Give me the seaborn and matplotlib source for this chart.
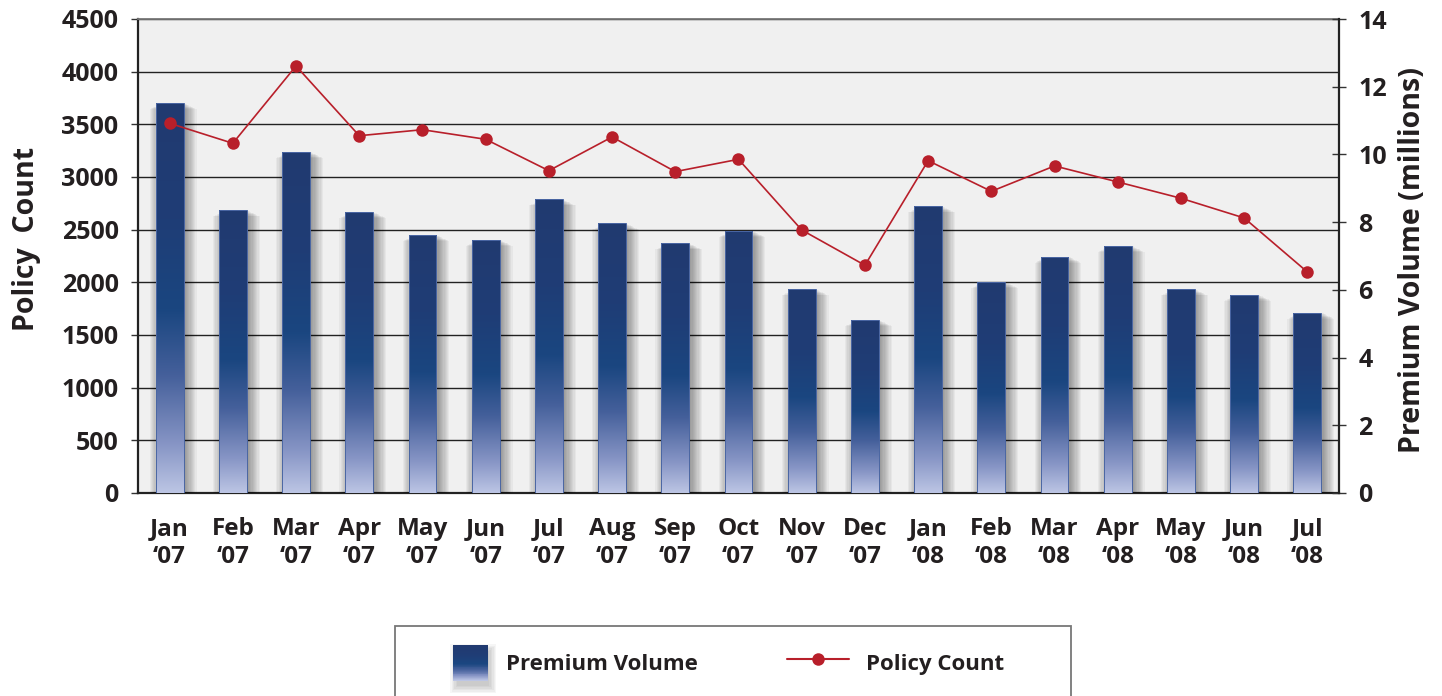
import numpy as np
import pandas as pd
import matplotlib
matplotlib.use("Agg")
import matplotlib.pyplot as plt
import seaborn as sns
from matplotlib.colors import LinearSegmentedColormap
from matplotlib.patches import Rectangle
from matplotlib.lines import Line2D
from matplotlib.legend_handler import HandlerBase

# ---------------- data ----------------
months = ["Jan", "Feb", "Mar", "Apr", "May", "Jun", "Jul", "Aug", "Sep", "Oct", "Nov", "Dec",
          "Jan", "Feb", "Mar", "Apr", "May", "Jun", "Jul"]
years = ["\u201807"] * 12 + ["\u201808"] * 7
premium_volume = [11.52, 8.35, 10.08, 8.30, 7.62, 7.48, 8.67, 7.96, 7.37, 7.74, 6.02, 5.11,
                  8.47, 6.24, 6.98, 7.30, 6.02, 5.86, 5.33]          # millions
policy_count = [3510, 3320, 4054, 3392, 3449, 3358, 3060, 3380, 3051, 3168, 2497, 2162,
                3155, 2864, 3105, 2953, 2798, 2611, 2098]
left_ticks = list(range(0, 4501, 500))
right_ticks = list(range(0, 15, 2))

periods = [f"{m}\n{y}" for m, y in zip(months, years)]
df = pd.DataFrame({"period": periods, "premium": premium_volume, "policies": policy_count})

# ---------------- style ----------------
sns.set_style("white")
plt.rcParams["font.family"] = ["Open Sans", "DejaVu Sans"]
plt.rcParams["font.weight"] = "bold"
plt.rcParams["axes.labelweight"] = "bold"

NAVY = "#1f3a72"
RED = "#b81f2a"
TXT = "#231f20"
grad = LinearSegmentedColormap.from_list(
    "bar", [(0.0, "#bcc5e4"), (0.12, "#8896c6"), (0.3, "#45609b"), (0.47, "#1a4680"),
            (0.7, "#1f3d76"), (1.0, "#213a70")])

fig = plt.figure(figsize=(14.42, 6.96), dpi=100)
L, B, R, T = 138, 493, 1339, 19
W, H = 1442, 696
ax = fig.add_axes([L / W, 1 - B / H, (R - L) / W, (B - T) / H])
ax_bar = ax.twinx()
ax_line = ax.twinx()

ax.set_facecolor("#f0f0f0")

# bars (premium volume, right scale)
sns.barplot(data=df, x="period", y="premium", ax=ax_bar, width=0.44, color=NAVY,
            saturation=1, zorder=3)
px_x = 1 / ((R - L) / 19)
px_y = 14 / (B - T)
gimg = np.linspace(1, 0, 256).reshape(-1, 1)
for p in list(ax_bar.patches):
    x0, w, h = p.get_x(), p.get_width(), p.get_height()
    # soft shadow
    for k in range(10):
        s = (k + 1) * 1.2
        ax_bar.add_patch(Rectangle((x0 + 6 * px_x - s * px_x, -s * px_y * 0.7),
                                   w + 2 * s * px_x - 5 * px_x, h + s * px_y * 0.2,
                                   facecolor="#000000", alpha=0.04, lw=0, zorder=2))
    im = ax_bar.imshow(gimg, extent=[x0, x0 + w, 0, h], aspect="auto", cmap=grad,
                       vmin=0, vmax=1, zorder=3.1, interpolation="bilinear")
    im.set_clip_path(p)
    p.set_facecolor("none")
    p.set_edgecolor("#4a66a3")
    p.set_linewidth(0.7)
    p.set_zorder(3.2)

# line (policy count, left scale)
sns.lineplot(data=df, x="period", y="policies", ax=ax_line, color=RED, lw=1.2,
             marker="o", markersize=9, markeredgewidth=0, sort=False, zorder=5)

# ---------------- axes ----------------
for a in (ax, ax_bar, ax_line):
    a.set_xlim(-0.5, 18.5)
ax.set_ylim(0, 4500)
ax_line.set_ylim(0, 4500)
ax_bar.set_ylim(0, 14)

ax.set_yticks(left_ticks)
ax.grid(axis="y", color="#222222", lw=1.0)
ax.grid(axis="x", visible=False)
ax.set_axisbelow(True)
ax.tick_params(axis="y", direction="out", length=5, width=1, color="#333333",
               pad=9, labelsize=18, labelcolor=TXT)

ax_bar.set_yticks(right_ticks)
ax_bar.tick_params(axis="y", direction="inout", length=10, width=1, color="#333333",
                   pad=9, labelsize=18, labelcolor=TXT)
ax_line.set_yticks([])
ax_line.set_ylabel("")
ax_line.set_xlabel("")
ax_bar.set_xlabel("")

ax.set_xticks(range(len(periods)))
ax.set_xticklabels(periods, fontsize=17.5, color=TXT, linespacing=1.2)
ax.set_xticks(np.arange(-0.5, len(periods), 1), minor=True)
ax.tick_params(axis="x", which="major", length=0, pad=17.5)
ax.tick_params(axis="x", which="minor", direction="inout", length=10, width=1, color="#333333")
ax.set_xlabel("")

for a in (ax, ax_bar, ax_line):
    for s in a.spines.values():
        s.set_visible(False)
ax.spines["left"].set_visible(True)
ax.spines["left"].set_color("#222222")
ax.spines["left"].set_linewidth(1.6)
ax.spines["bottom"].set_visible(True)
ax.spines["bottom"].set_color("#222222")
ax.spines["bottom"].set_linewidth(1.6)
ax.spines["top"].set_visible(True)
ax.spines["top"].set_color("#777777")
ax.spines["top"].set_linewidth(1.3)
ax_bar.spines["right"].set_visible(True)
ax_bar.spines["right"].set_color("#222222")
ax_bar.spines["right"].set_linewidth(1.6)

ax.set_ylabel("Policy  Count", fontsize=20.5, color=TXT)
ax.yaxis.set_label_coords((41 - L) / (R - L), (B - 239) / (B - T))
ax_bar.set_ylabel("Premium Volume (millions)", fontsize=20.5, color=TXT, rotation=90)
ax_bar.yaxis.set_label_coords((1398 - L) / (R - L), (B - 260) / (B - T))


# ---------------- legend ----------------
class GradientSquare(HandlerBase):
    def create_artists(self, legend, orig_handle, xdescent, ydescent, width, height,
                       fontsize, trans):
        side = 35 * 72 / fig.dpi
        x0 = -xdescent + width - side
        y0 = -ydescent + height / 2 - side / 2
        arts = []
        for k in range(6):
            s = (k + 1) * 1.0
            arts.append(Rectangle((x0 + 4 - s, y0 - 3 - s), side + 2 * s - 4, side + 2 * s - 2,
                                  facecolor="#000000", alpha=0.035, lw=0, transform=trans))
        n = 40
        for i in range(n):
            arts.append(Rectangle((x0, y0 + side * i / n), side, side / n * 1.05,
                                  facecolor=grad(i / n), edgecolor="none", transform=trans))
        return arts


bar_handle = Rectangle((0, 0), 1, 1)
line_handle = Line2D([], [], color=RED, lw=1.5, marker="o", markersize=9, markeredgewidth=0)
leg = fig.legend([bar_handle, line_handle], ["Premium Volume", "Policy Count"],
                 handler_map={Rectangle: GradientSquare()},
                 loc="center left", bbox_to_anchor=(426 / W, 1 - 663 / H),
                 ncol=2, frameon=False, fontsize=16, borderpad=0, borderaxespad=0,
                 handlelength=62 / 22.2, handleheight=1.6, handletextpad=0.8,
                 columnspacing=4.0)
for t in leg.get_texts():
    t.set_color(TXT)
fig.patches.append(Rectangle((395 / W, -0.05), (1071 - 395) / W, (1 - 626 / H) + 0.05,
                             transform=fig.transFigure, facecolor="none",
                             edgecolor="#777777", lw=1.3))

fig.savefig("out.png", dpi=100)
